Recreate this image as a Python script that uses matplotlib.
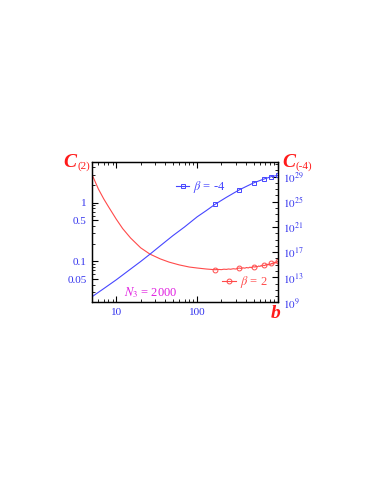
import numpy as np
import matplotlib
matplotlib.use('Agg')
import matplotlib.pyplot as plt
from matplotlib.ticker import LogLocator, FixedLocator, NullFormatter, FixedFormatter

plt.rcParams['font.family'] = 'Liberation Serif'
plt.rcParams['mathtext.fontset'] = 'stix'

RED = '#ff4a4a'
BLUE = '#4646ff'
LBLUE = '#3333ee'

# beta = 2, left axis
b_red = [5, 6, 7, 8, 10, 12, 15, 20, 26, 35, 45, 60, 80, 100, 130,
         167, 185, 200, 215, 230, 245, 260, 280, 300, 320, 333, 350, 370, 390, 410,
         430, 450, 470, 500, 520, 540, 560, 580, 600, 620, 640, 667, 690, 710, 730,
         750, 770, 790, 810, 833, 850, 870, 890, 910, 930, 950, 970, 1000]
c_red = [3.0, 1.7, 1.15, 0.85, 0.52, 0.36, 0.25, 0.17, 0.133, 0.11, 0.097, 0.087, 0.08, 0.077, 0.074,
         0.0720, 0.0728, 0.0722, 0.0735, 0.0729, 0.0741, 0.0733, 0.0748, 0.0740, 0.0760, 0.0770, 0.0758,
         0.0775, 0.0765, 0.0785, 0.0772, 0.0795, 0.0782, 0.0810, 0.0798, 0.0822, 0.0808, 0.0835, 0.0818,
         0.0850, 0.0830, 0.0860, 0.0845, 0.0880, 0.0858, 0.0895, 0.0872, 0.0910, 0.0888, 0.0920, 0.0900,
         0.0945, 0.0915, 0.0965, 0.0935, 0.0985, 0.0960, 0.1000]

# beta = -4, right axis (log10 of C)
b_blue = [5, 7, 10, 15, 20, 26, 35, 50, 70, 100, 130, 167, 230, 333, 500, 667, 833, 1000]
logc_blue = [9.9, 11.2, 12.6, 14.3, 15.5, 16.65, 18.0, 19.6, 21.0, 22.6, 23.6, 24.6, 25.7,
             26.9, 28.0, 28.6, 29.0, 29.2]

mark_b = [167, 333, 500, 667, 833, 1000]

c_blue = 10.0 ** np.array(logc_blue)
idx_red = [b_red.index(v) for v in mark_b]
idx_blue = [b_blue.index(v) for v in mark_b]

fig = plt.figure(figsize=(3.71, 4.80), dpi=100)
ax = fig.add_axes([0.248, 0.370, 0.501, 0.2935])
ax2 = ax.twinx()

l_red, = ax.plot(b_red, c_red, color=RED, lw=0.8, marker='o', ms=3.5, mfc='none',
                 mew=0.7, markevery=idx_red, label=r'$\beta$ = 2')
l_blue, = ax2.plot(b_blue, c_blue, color=BLUE, lw=0.8, marker='s', ms=3.3, mfc='none',
                   mew=0.7, markevery=idx_blue, label=r'$\beta$ = -4')

ax.set_xscale('log')
ax.set_yscale('log')
ax2.set_yscale('log')
ax.set_xlim(5, 1000)
ax.set_ylim(0.02, 5)
ax2.set_ylim(1e9, 10 ** 31.4)

ax.xaxis.set_major_locator(FixedLocator([10, 100, 1000]))
ax.xaxis.set_major_formatter(FixedFormatter(['10', '100', '']))
ax.xaxis.set_minor_locator(LogLocator(base=10, subs=np.arange(2, 10), numticks=20))
ax.xaxis.set_minor_formatter(NullFormatter())

ax.yaxis.set_major_locator(FixedLocator([0.05, 0.1, 0.5, 1]))
ax.yaxis.set_major_formatter(FixedFormatter(['0.05', '0.1', '0.5', '1']))
ax.yaxis.set_minor_locator(LogLocator(base=10, subs=np.arange(2, 10), numticks=20))
ax.yaxis.set_minor_formatter(NullFormatter())

ax2.yaxis.set_major_locator(FixedLocator([1e9, 1e13, 1e17, 1e21, 1e25, 1e29]))
ax2.yaxis.set_major_formatter(FixedFormatter([r'$10^{9}$', r'$10^{13}$', r'$10^{17}$',
                                              r'$10^{21}$', r'$10^{25}$', r'$10^{29}$']))
ax2.yaxis.set_minor_locator(LogLocator(base=10, subs=[1.0], numticks=40))
ax2.yaxis.set_minor_formatter(NullFormatter())

ax.tick_params(which='both', direction='in', top=True, labelsize=8, labelcolor=LBLUE, pad=4)
ax.tick_params(which='major', length=4, width=0.8)
ax.tick_params(which='minor', length=2, width=0.6)
ax.tick_params(axis='y', which='both', right=False)
ax2.tick_params(which='both', direction='in', labelsize=8, labelcolor=LBLUE, pad=4)
ax2.tick_params(which='major', length=4, width=0.8)
ax2.tick_params(which='minor', length=2, width=0.6)

for a in (ax, ax2):
    for s in a.spines.values():
        s.set_linewidth(0.9)

leg1 = ax.legend(handles=[l_blue], loc='center left', bbox_to_anchor=(0.45, 0.82),
                 frameon=False, fontsize=9, handlelength=1.1, handletextpad=0.3,
                 borderpad=0, borderaxespad=0, labelcolor=BLUE)
ax.add_artist(leg1)
ax.legend(handles=[l_red], loc='center left', bbox_to_anchor=(0.70, 0.144),
          frameon=False, fontsize=9, handlelength=1.1, handletextpad=0.3,
          borderpad=0, borderaxespad=0, labelcolor=RED)

ax.text(0.172, 0.073, r'$N_3$ = 2000', transform=ax.transAxes, color='#e01ee0',
        fontsize=9, va='center', ha='left')

# axis titles
fig.text(63 / 371, 1 - 167.5 / 480, 'C', color='#ff1a1a', fontsize=14,
         fontweight='bold', style='italic', va='baseline', ha='left')
fig.text(77 / 371, 1 - 169 / 480, '(2)', color='#ff1a1a', fontsize=8,
         va='baseline', ha='left')
fig.text(282 / 371, 1 - 167.5 / 480, 'C', color='#ff1a1a', fontsize=14,
         fontweight='bold', style='italic', va='baseline', ha='left')
fig.text(296 / 371, 1 - 169 / 480, '(-4)', color='#ff1a1a', fontsize=8,
         va='baseline', ha='left')
fig.text(275.5 / 371, 1 - 318 / 480, 'b', color='#ff1a1a', fontsize=14,
         fontweight='bold', style='italic', va='baseline', ha='center')

fig.savefig('out.png', dpi=100)
